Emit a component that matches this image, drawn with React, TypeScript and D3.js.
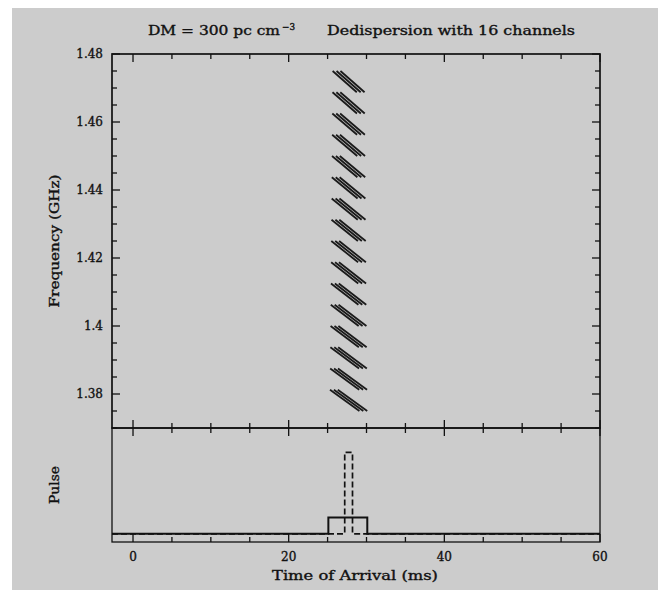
import React from "react";
import * as d3 from "d3";

// axis ticks
const xTicks = [0, 20, 40, 60];
const xTickLabels = ["0", "20", "40", "60"];
const yTicks = [1.38, 1.4, 1.42, 1.44, 1.46, 1.48];
const yTickLabels = ["1.38", "1.4", "1.42", "1.44", "1.46", "1.48"];

// 16 channels: top frequency (GHz) and intra-channel smearing (ms)
const channelTop = [
  1.475, 1.46875, 1.4625, 1.45625, 1.45, 1.44375, 1.4375, 1.43125,
  1.425, 1.41875, 1.4125, 1.40625, 1.4, 1.39375, 1.3875, 1.38125
];
const channelSmear = [
  3.10, 3.14, 3.18, 3.22, 3.26, 3.31, 3.35, 3.39,
  3.44, 3.48, 3.53, 3.58, 3.63, 3.68, 3.73, 3.78
];
const channelWidth = 0.00625;
// pulse edges (ms) at channel centre
const pulseEdges = [27.2, 27.7, 28.2];

// bottom panel pulse profiles
const dedispTimes = [-2.7, 25.1, 25.1, 30.1, 30.1, 60];
const dedispValues = [0, 0, 0.2, 0.2, 0, 0];
const origTimes = [-2.7, 27.2, 27.2, 28.2, 28.2, 60];
const origValues = [0, 0, 1, 1, 0, 0];

const W = 658;
const H = 590;
const left = 112, right = 600, top = 54, mid = 428, bottom = 542;
const font = "'DejaVu Serif', serif";
const ink = "#111";

export default function App() {
  const x = d3.scaleLinear().domain([-2.7, 60]).range([left, right]);
  const yF = d3.scaleLinear().domain([1.37, 1.48]).range([mid, top]);
  const yP = d3.scaleLinear().domain([-0.1, 1.3]).range([bottom, mid]);

  const xMinor = d3.range(0, 61, 5);
  const yMinor = d3.range(1.37, 1.4801, 0.005);

  const pulseLine = d3
    .line<[number, number]>()
    .x(d => x(d[0]))
    .y(d => yP(d[1]));
  const dedisp = pulseLine(dedispTimes.map((t, i) => [t, dedispValues[i]]))!;
  const orig = pulseLine(origTimes.map((t, i) => [t, origValues[i]]))!;

  const sweeps: { x1: number; y1: number; x2: number; y2: number }[] = [];
  channelTop.forEach((f, i) => {
    const s = channelSmear[i];
    pulseEdges.forEach(e => {
      sweeps.push({
        x1: x(e - s / 2),
        y1: yF(f),
        x2: x(e + s / 2),
        y2: yF(f - channelWidth)
      });
    });
  });

  const tick = (x1: number, y1: number, x2: number, y2: number, k: string) => (
    <line key={k} x1={x1} y1={y1} x2={x2} y2={y2} stroke={ink} strokeWidth={1.3} />
  );

  const txt = { fontSize: 12, fill: ink, stroke: ink, strokeWidth: 0.35 };

  return (
    <svg
      width={W}
      height={H}
      style={{ position: "absolute", left: 0, top: 0 }}
      fontFamily={font}
    >
      <rect x={12} y={8} width={W - 12} height={H - 8} fill="#cccccc" />

      {/* title */}
      <text x={148} y={35} {...txt} textLength={132} lengthAdjust="spacingAndGlyphs">
        DM = 300 pc cm
      </text>
      <text x={282} y={30} {...txt} fontSize={9} textLength={13} lengthAdjust="spacingAndGlyphs">
        −3
      </text>
      <text x={327} y={35} {...txt} textLength={248} lengthAdjust="spacingAndGlyphs">
        Dedispersion with 16 channels
      </text>

      {/* sweeps */}
      {sweeps.map((d, i) => (
        <line key={"s" + i} {...d} stroke="#1a1a1a" strokeWidth={1.8} />
      ))}

      {/* pulses */}
      <path d={orig} fill="none" stroke={ink} strokeWidth={1.7} strokeDasharray="6,3" />
      <path d={dedisp} fill="none" stroke={ink} strokeWidth={2} />

      {/* frames */}
      <rect x={left} y={top} width={right - left} height={mid - top} fill="none" stroke={ink} strokeWidth={1.7} />
      <rect x={left} y={mid} width={right - left} height={bottom - mid} fill="none" stroke={ink} strokeWidth={1.3} />

      {/* x ticks */}
      {xMinor.map(v => {
        const major = xTicks.includes(v);
        const L = major ? 8 : 5;
        const px = x(v);
        return (
          <g key={"xt" + v}>
            {tick(px, top, px, top + L, "a")}
            {tick(px, mid - L, px, mid + L, "b")}
            {tick(px, bottom - L, px, bottom, "c")}
          </g>
        );
      })}

      {/* y ticks */}
      {yMinor.map((v, i) => {
        const major = yTicks.some(t => Math.abs(t - v) < 1e-6);
        const L = major ? 8 : 5;
        const py = yF(v);
        return (
          <g key={"yt" + i}>
            {tick(left, py, left + L, py, "a")}
            {tick(right - L, py, right, py, "b")}
          </g>
        );
      })}

      {/* tick labels */}
      {yTicks.map((v, i) => (
        <text key={"yl" + i} x={103} y={yF(v)} dy="0.35em" textAnchor="end" {...txt}>
          {yTickLabels[i]}
        </text>
      ))}
      {xTicks.map((v, i) => (
        <text key={"xl" + i} x={x(v)} y={561} textAnchor="middle" {...txt}>
          {xTickLabels[i]}
        </text>
      ))}

      {/* axis titles */}
      <text x={355} y={580} textAnchor="middle" {...txt} textLength={166} lengthAdjust="spacingAndGlyphs">
        Time of Arrival (ms)
      </text>
      <text
        transform={`translate(55,${(top + mid) / 2}) rotate(-90)`}
        dy="0.35em"
        textAnchor="middle"
        {...txt}
        textLength={133}
        lengthAdjust="spacingAndGlyphs"
      >
        Frequency (GHz)
      </text>
      <text
        transform={`translate(55,${(mid + bottom) / 2}) rotate(-90)`}
        dy="0.35em"
        textAnchor="middle"
        {...txt}
        textLength={38}
        lengthAdjust="spacingAndGlyphs"
      >
        Pulse
      </text>
    </svg>
  );
}
